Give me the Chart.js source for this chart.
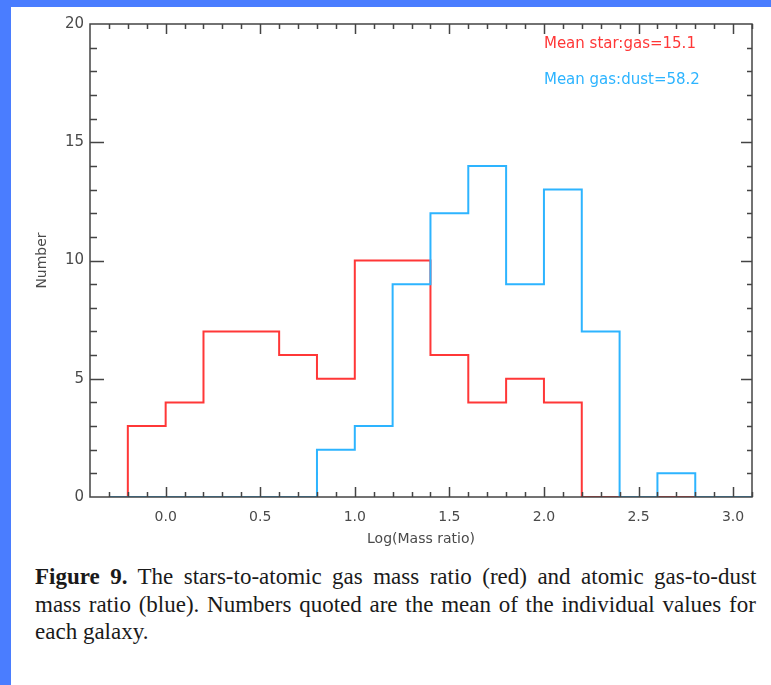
<!DOCTYPE html>
<html>
<head>
<meta charset="utf-8">
<script src="https://cdn.jsdelivr.net/npm/chart.js@4.4.1/dist/chart.umd.min.js"></script>
<style>
  html, body { margin: 0; padding: 0; background: #fff; }
  body { width: 771px; height: 685px; position: relative; overflow: hidden; }
  .edge-top { position: absolute; left: 0; top: 0; width: 771px; height: 7px; background: #4a7dff; }
  .edge-left { position: absolute; left: 0; top: 0; width: 11px; height: 685px; background: #4a7dff; }
  #wrap { position: absolute; left: 0; top: 0; width: 771px; height: 560px; }
  .caption { position: absolute; left: 35px; top: 563px; width: 721px;
    font-family: "Liberation Serif", "Times New Roman", serif; font-size: 23px; line-height: 27.5px; color: #1a1a1a; }
  .caption div { white-space: nowrap; }
  .caption b { font-weight: bold; }
</style>
</head>
<body>
<div class="edge-top"></div>
<div class="edge-left"></div>
<div id="wrap"><canvas id="hist" width="771" height="560"></canvas></div>
<div class="caption">
  <div class="fit"><b>Figure 9.</b> The stars-to-atomic gas mass ratio (red) and atomic gas-to-dust</div>
  <div class="fit">mass ratio (blue). Numbers quoted are the mean of the individual values for</div>
  <div>each galaxy.</div>
</div>
<script>
// bin centres of the two histograms (bin width 0.2)
const binCenters = [-0.3, -0.1, 0.1, 0.3, 0.5, 0.7, 0.9, 1.1, 1.3, 1.5, 1.7, 1.9, 2.1, 2.3, 2.5, 2.7, 2.9, 3.1];
const starGas = [0, 3, 4, 7, 7, 6, 5, 10, 10, 6, 4, 5, 4, 0, 0, 0, 0, 0];
const gasDust = [0, 0, 0, 0, 0, 0, 2, 3, 9, 12, 14, 9, 13, 7, 0, 1, 0, 0];

const xTickValues = [0, 0.5, 1, 1.5, 2, 2.5, 3];
const xTickLabels = ['0.0', '0.5', '1.0', '1.5', '2.0', '2.5', '3.0'];
const yTickValues = [0, 5, 10, 15, 20];
const yTickLabels = ['0', '5', '10', '15', '20'];
const notes = ['Mean star:gas=15.1', 'Mean gas:dust=58.2'];

const RED = 'rgb(255, 55, 55)';
const BLUE = 'rgb(45, 180, 255)';
const AXIS = '#444';
const TEXT = '#4a4a4a';
const FONT = 'DejaVu Sans';

const toPoints = (vals) => binCenters.map((x, i) => ({ x, y: vals[i] }));

// IDL-style frame: box with inward ticks on all four sides + the two notes
const frame = {
  id: 'frame',
  afterDraw(chart) {
    const { ctx, chartArea: a, scales: { x, y } } = chart;
    ctx.save();
    ctx.strokeStyle = AXIS;
    ctx.lineWidth = 1.5;
    ctx.strokeRect(a.left, a.top, a.right - a.left, a.bottom - a.top);

    ctx.beginPath();
    for (let k = -3; k <= 31; k++) {
      const px = Math.round(x.getPixelForValue(k / 10)) + 0.5;
      const len = k % 5 === 0 ? 10 : 5;
      ctx.moveTo(px, a.bottom); ctx.lineTo(px, a.bottom - len);
      ctx.moveTo(px, a.top); ctx.lineTo(px, a.top + len);
    }
    for (let k = 1; k < 20; k++) {
      const py = Math.round(y.getPixelForValue(k)) + 0.5;
      const major = k % 5 === 0;
      ctx.moveTo(a.left, py); ctx.lineTo(a.left + (major ? 14 : 7), py);
      ctx.moveTo(a.right, py); ctx.lineTo(a.right - (major ? 11 : 5), py);
    }
    ctx.stroke();

    ctx.font = '15px "' + FONT + '"';
    ctx.textBaseline = 'middle';
    ctx.fillStyle = RED;
    ctx.fillText(notes[0], x.getPixelForValue(2.0), y.getPixelForValue(19.15));
    ctx.fillStyle = BLUE;
    ctx.fillText(notes[1], x.getPixelForValue(2.0), y.getPixelForValue(17.63));
    ctx.restore();
  },
};

const ctx = document.getElementById('hist').getContext('2d');
new Chart(ctx, {
  type: 'line',
  data: {
    datasets: [
      { label: 'gas:dust', data: toPoints(gasDust), borderColor: BLUE, borderWidth: 2, stepped: 'middle', pointRadius: 0, fill: false },
      { label: 'star:gas', data: toPoints(starGas), borderColor: RED, borderWidth: 2, stepped: 'middle', pointRadius: 0, fill: false },
    ],
  },
  options: {
    responsive: false,
    animation: false,
    layout: { padding: { top: 24, right: 19, left: 0, bottom: 0 } },
    plugins: { legend: { display: false }, tooltip: { enabled: false } },
    scales: {
      x: {
        type: 'linear', min: -0.4, max: 3.1,
        grid: { display: false, drawTicks: false },
        border: { display: false },
        afterBuildTicks: (s) => { s.ticks = xTickValues.map((v) => ({ value: v })); },
        afterFit: (s) => { s.height = 63; },
        ticks: {
          callback: (v) => xTickLabels[xTickValues.indexOf(v)],
          font: { family: FONT, size: 14 }, color: TEXT, padding: 12, maxRotation: 0, autoSkip: false,
        },
        title: { display: true, text: 'Log(Mass ratio)', font: { family: FONT, size: 14 }, color: TEXT, padding: { top: 0, bottom: 12 } },
      },
      y: {
        type: 'linear', min: 0, max: 20,
        grid: { display: false, drawTicks: false },
        border: { display: false },
        afterBuildTicks: (s) => { s.ticks = yTickValues.map((v) => ({ value: v })); },
        afterFit: (s) => { s.width = 90; },
        ticks: {
          callback: (v) => yTickLabels[yTickValues.indexOf(v)],
          font: { family: FONT, size: 15 }, color: TEXT, padding: 6, autoSkip: false,
        },
        title: { display: true, text: 'Number', font: { family: FONT, size: 14 }, color: TEXT, padding: { top: 34, bottom: 0 } },
      },
    },
  },
  plugins: [frame],
});

// stretch the first two caption lines to the full column width
document.querySelectorAll('.caption .fit').forEach((line) => {
  const spaces = (line.textContent.match(/ /g) || []).length;
  line.style.display = 'inline-block';
  const w = line.scrollWidth;
  line.style.display = '';
  line.style.wordSpacing = ((721 - w) / spaces) + 'px';
});
</script>
</body>
</html>
